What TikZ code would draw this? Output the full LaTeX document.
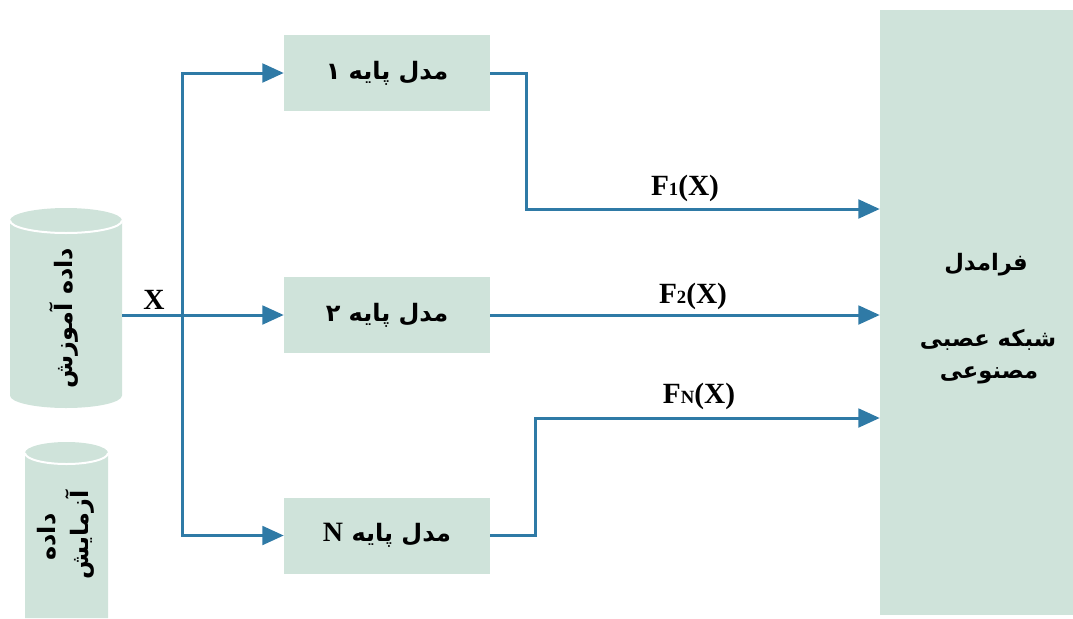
\documentclass[tikz,border=0pt]{standalone}
\usepackage{fontspec}
\setmainfont{Liberation Serif}
\newfontfamily\lat{Liberation Serif}
\newfontfamily\fa[Script=Arabic]{DejaVu Sans}
\TeXXeTstate=1
\usetikzlibrary{arrows.meta}
\definecolor{boxfill}{RGB}{207,227,218}
\definecolor{linec}{RGB}{47,122,166}
\tikzset{
  model/.style={fill=boxfill, minimum width=154.5pt, minimum height=57pt, inner sep=0pt,
    font=\fa\bfseries\fontsize{18}{21}\selectfont},
  conn/.style={draw=linec, line width=2.25pt},
  arr/.style={conn, -{Triangle[length=16pt,width=14pt]}},
  lab/.style={font=\lat\bfseries\fontsize{22}{24}\selectfont, inner sep=0pt, anchor=base},
  fatext/.style={font=\fa\bfseries\fontsize{17}{20}\selectfont, inner sep=0pt},
  cyltext/.style={font=\fa\bfseries\fontsize{18}{21}\selectfont, inner sep=0pt, rotate=90},
  holder/.style={inner sep=0pt, minimum width=84pt, minimum height=150pt},
}
\newcommand{\subsz}[1]{{\fontsize{14}{14}\selectfont #1}}
\begin{document}
\begin{tikzpicture}[x=0.75pt,y=-0.75pt]
\useasboundingbox (0,0) rectangle (1073,618);
% training data cylinder
\fill[boxfill] (10,220.5) arc[start angle=180,end angle=360,x radius=56,y radius=12.5]
  -- (122,395.5) arc[start angle=0,end angle=180,x radius=56,y radius=12.5] -- cycle;
\draw[white,line width=1.5pt] (10,220.5) arc[start angle=180,end angle=0,x radius=56,y radius=12.5];
\node[holder] (train) at (66,308) {};
\node[cyltext] (traintxt) at (64,318) {\beginR داده آموزش\endR};
% test data cylinder
\fill[boxfill] (25,453) arc[start angle=180,end angle=360,x radius=41.5,y radius=11]
  -- (108,618) -- (25,618) -- cycle;
\draw[white,line width=1.5pt] (25,453) arc[start angle=180,end angle=0,x radius=41.5,y radius=11];
\node[cyltext] (testtxt1) at (47,537) {\beginR داده\endR};
\node[cyltext] (testtxt2) at (80,535) {\beginR آزمایش\endR};
% meta model
\node[fill=boxfill, minimum width=144.75pt, minimum height=453.75pt, inner sep=0pt] (meta) at (976.5,312.5) {};
\node[fatext] (m1) at (986,265) {\beginR فرامدل\endR};
\node[fatext] (m2) at (988,340) {\beginR شبکه عصبی\endR};
\node[fatext] (m3) at (989,375) {\beginR مصنوعی\endR};
% base models
\node[model] (b1) at (387,73) {\beginR مدل پایه ۱\endR};
\node[model] (b2) at (387,315) {\beginR مدل پایه ۲\endR};
\node[model] (bN) at (387,535.5) {\beginR مدل پایه {\lat\bfseries\fontsize{21}{21}\selectfont N}\endR};
% input bus
\coordinate (bus) at (182,315);
\draw[conn] (train.east |- bus) -- (bus);
\draw[arr] (bus) |- (b1.west);
\draw[arr] (bus) -- (b2.west);
\draw[arr] (bus) |- (bN.west);
\node[lab] (xl) at (154,309) {X};
% outputs
\coordinate (in1) at (meta.west |- 0,209);
\coordinate (in3) at (meta.west |- 0,418);
\draw[arr] (b1.east) -- ++(36,0) |- (in1);
\draw[arr] (b2.east) -- (meta.west |- b2.east);
\draw[arr] (bN.east) -- ++(45,0) |- (in3);
\node[lab] (f1) at (685,195) {F\subsz{1}(X)};
\node[lab] (f2) at (693,303) {F\subsz{2}(X)};
\node[lab] (fn) at (699,403) {F\subsz{N}(X)};
\end{tikzpicture}
\end{document}
